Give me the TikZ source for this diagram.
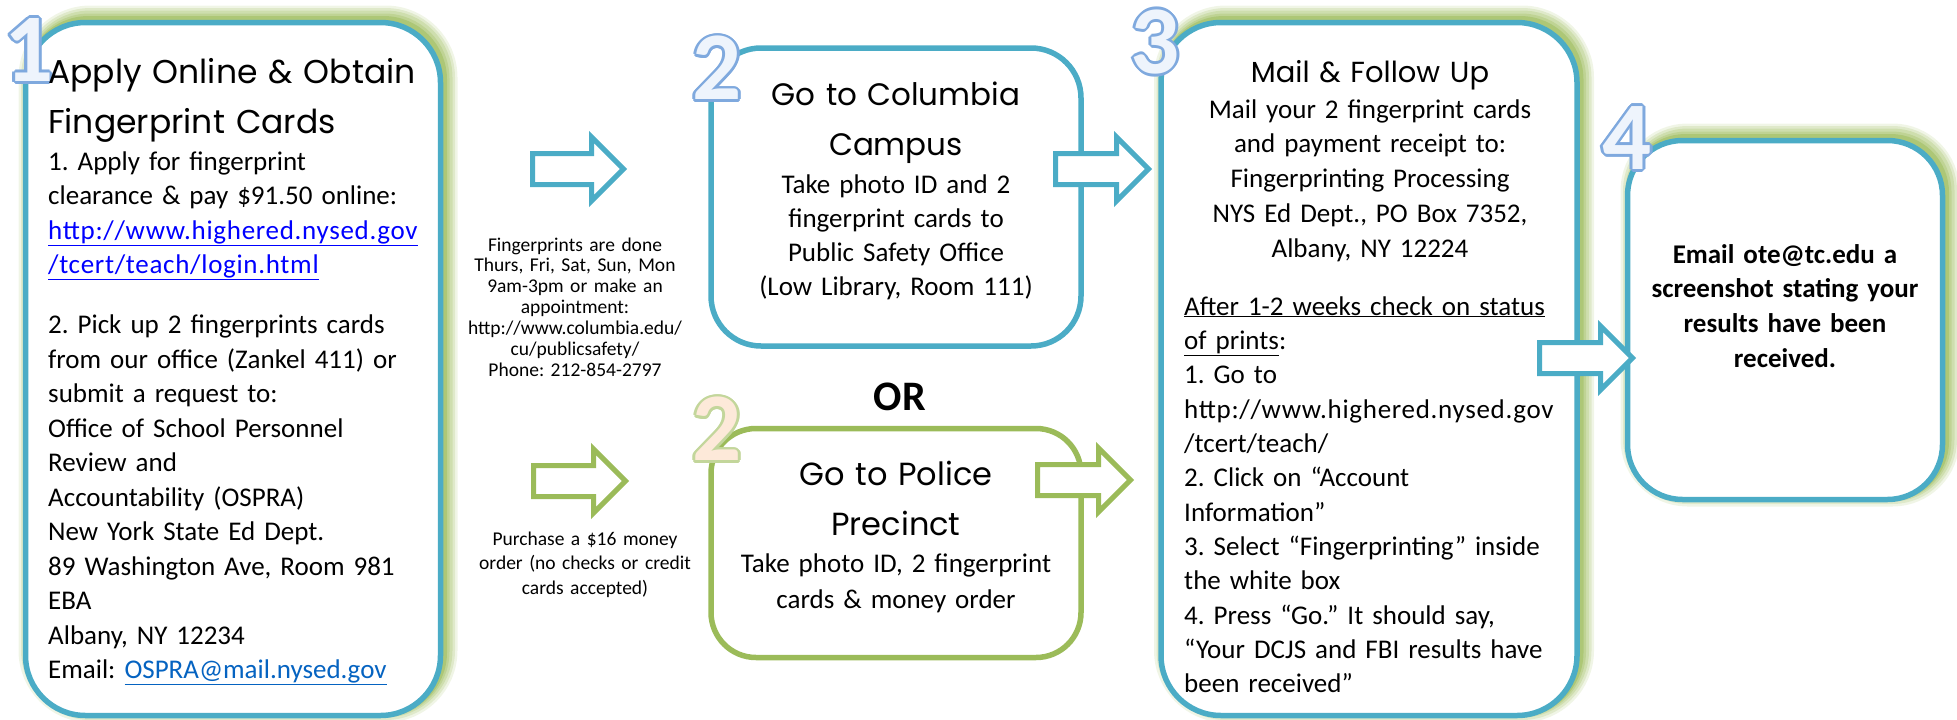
\documentclass[tikz,border=0pt]{standalone}
\usepackage{fontspec}
\setmainfont{Carlito}
\newfontfamily\comicfont{Poppins}
\usetikzlibrary{shapes.arrows, calc}
\frenchspacing

\definecolor{aqua}{HTML}{4BACC6}
\definecolor{leaf}{HTML}{9BBB59}
\definecolor{numline}{HTML}{7FA9DE}
\definecolor{numfill}{HTML}{EEF4FC}
\definecolor{numgline}{HTML}{C3D69B}
\definecolor{numgfill}{HTML}{FDE9D9}
\definecolor{weblink}{HTML}{0000FF}
\definecolor{maillink}{HTML}{0563C1}

\begin{document}
\begin{tikzpicture}[x=1pt, y=-1pt,
  stepbox/.style={draw=#1, line width=5.5pt, fill=white, inner sep=0pt},
  stepbox/.default=aqua,
  glow/.style={
    preaction={draw=leaf, line width=24pt, opacity=.15, transform canvas={xshift=5pt, yshift=5pt}},
    preaction={draw=leaf, line width=19pt, opacity=.2, transform canvas={xshift=5pt, yshift=5pt}},
    preaction={draw=leaf, line width=14pt, opacity=.25, transform canvas={xshift=5pt, yshift=5pt}},
    preaction={draw=leaf, line width=10pt, opacity=.3, transform canvas={xshift=4pt, yshift=4pt}},
    preaction={draw=leaf, line width=7pt, opacity=.5, transform canvas={xshift=3pt, yshift=3pt}}},
  blockarrow/.style={single arrow, draw=#1, fill=white, line width=5pt, inner xsep=0pt,
    inner ysep=13pt, single arrow head extend=16.5pt, single arrow tip angle=90, anchor=tail},
  stepnum/.style={font=\bfseries\fontsize{97}{97}\selectfont, inner sep=0pt},
  headtext/.style={font=\comicfont\fontsize{#1}{50}\selectfont, inner sep=0pt},
  bodytext/.style={font=\fontsize{27}{#1}\selectfont, inner sep=0pt},
  bodytext/.default=34.5pt,
  notetext/.style={font=\fontsize{19.5}{#1}\selectfont, inner sep=0pt, align=center, text width=240pt, anchor=base}
]
  \useasboundingbox (0,0) rectangle (1957,720);

  \node[stepbox, glow, rounded corners=60pt, minimum width=415pt, minimum height=693pt] (box1) at (233,369) {};
  \node[stepbox, rounded corners=50pt, minimum width=370pt, minimum height=298pt] (colbox) at (896,197) {};
  \node[stepbox=leaf, rounded corners=45pt, minimum width=370pt, minimum height=229pt] (polbox) at (896,543) {};
  \node[stepbox, glow, rounded corners=60pt, minimum width=416pt, minimum height=693pt] (box3) at (1369,369) {};
  \node[stepbox, glow, rounded corners=55pt, minimum width=315pt, minimum height=359pt] (box4) at (1785,320) {};

  \node[blockarrow=aqua, minimum height=91pt] (arrcol) at (530,169) {};
  \node[blockarrow=leaf, minimum height=92pt] (arrpol) at (531,481) {};
  \node[blockarrow=aqua, minimum height=93pt] (arrcolmail) at (1053,169) {};
  \node[blockarrow=leaf, minimum height=93pt] (arrpolmail) at (1035,480) {};
  \node[blockarrow=aqua, minimum height=93pt] (arrmail) at (1537,358) {};

  \foreach \n/\d/\px/\py/\ln/\fl in {1/1/29/50/numline/numfill,
                                     2/2/717/68/numline/numfill,
                                     2b/2/717/429/numgline/numgfill,
                                     3/3/1155/42/numline/numfill,
                                     4/4/1627/138/numline/numfill} {
    \foreach \a in {0,30,...,330}
      \node[stepnum, text=\ln] (num\n-\a) at ($(\px,\py)+(\a:2.8)$) {\d};
    \node[stepnum, text=\fl] (num\n) at (\px,\py) {\d};
  }

  \node[headtext=33, anchor=base west, align=left, text width=420pt] (head1) at (48,83)
    {Apply Online \& Obtain\\Fingerprint Cards};
  \node[bodytext, anchor=base west, align=left, text width=420pt] (body1) at (48,170)
    {1. Apply for fingerprint\\
     clearance \& pay \$91.50 online:\\
     {\addfontfeatures{LetterSpace=2.6}\textcolor{weblink}{\underline{http://www.highered.nysed.gov}}}\\
     {\addfontfeatures{LetterSpace=2.6}\textcolor{weblink}{\underline{/tcert/teach/login.html}}}\\[25.5pt]
     2. Pick up 2 fingerprints cards\\
     from our office (Zankel 411) or\\
     submit a request to:\\
     Office of School Personnel\\
     Review and\\
     Accountability (OSPRA)\\
     New York State Ed Dept.\\
     89 Washington Ave, Room 981\\
     EBA\\
     Albany, NY 12234\\
     Email: \textcolor{maillink}{\underline{OSPRA@mail.nysed.gov}}};

  \node[notetext=20.9pt] (notecol) at (575,251)
    {Fingerprints are done\\Thurs, Fri, Sat, Sun, Mon\\9am-3pm or make an\\appointment:\\
     http://www.columbia.edu/\\cu/publicsafety/\\Phone: 212-854-2797};
  \node[notetext=24.5pt] (notepol) at (585,545)
    {Purchase a \$16 money\\order (no checks or credit\\cards accepted)};

  \node[headtext=31, anchor=base, align=center, text width=360pt] (head2) at (896,105)
    {Go to Columbia\\Campus};
  \node[bodytext=34pt, anchor=base, align=center, text width=360pt] (body2) at (896,193)
    {Take photo ID and 2\\fingerprint cards to\\Public Safety Office\\(Low Library, Room 111)};
  \node[font=\bfseries\fontsize{42}{42}\selectfont, inner sep=0pt] (or) at (900,397) {OR};
  \node[headtext=32, anchor=base, align=center, text width=360pt] (head2b) at (896,485)
    {Go to Police\\Precinct};
  \node[bodytext=36pt, anchor=base, align=center, text width=360pt] (body2b) at (896,572)
    {Take photo ID, 2 fingerprint\\cards \& money order};

  \node[headtext=29, anchor=base, align=center, text width=400pt] (head3) at (1370,82)
    {Mail \& Follow Up};
  \node[bodytext=34.75pt, anchor=base, align=center, text width=400pt] (body3) at (1370,118)
    {Mail your 2 fingerprint cards\\and payment receipt to:\\Fingerprinting Processing\\
     NYS Ed Dept., PO Box 7352,\\Albany, NY 12224};
  \node[bodytext=34.36pt, anchor=base west, align=left, text width=400pt] (check3) at (1184,315)
    {\underline{After 1-2 weeks check on status}\\
     \underline{of prints}:\\
     1. Go to\\
     {\addfontfeatures{LetterSpace=2.6}http://www.highered.nysed.gov}\\
     /tcert/teach/\\
     2. Click on “Account\\
     Information”\\
     3. Select “Fingerprinting” inside\\
     the white box\\
     4. Press “Go.” It should say,\\
     “Your DCJS and FBI results have\\
     been received”};

  \node[font=\bfseries\fontsize{27}{34.7}\selectfont, inner sep=0pt, anchor=base, align=center,
        text width=300pt] (body4) at (1785,263)
    {Email ote@tc.edu a\\screenshot stating your\\results have been\\received.};
\end{tikzpicture}
\end{document}
